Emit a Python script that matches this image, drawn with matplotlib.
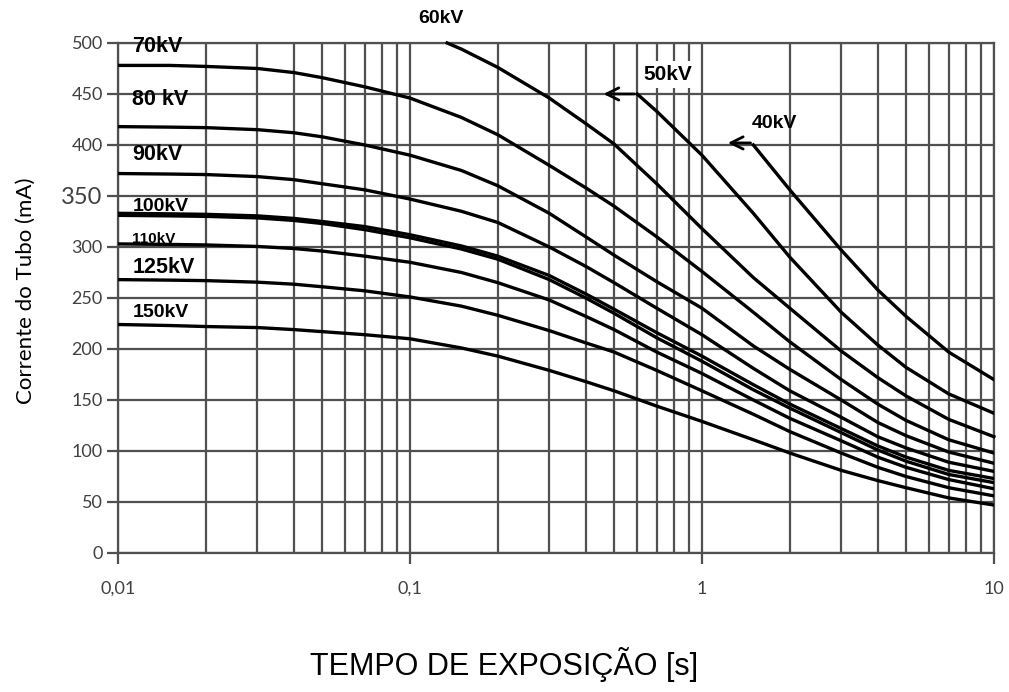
import matplotlib
matplotlib.use("Agg")
import matplotlib.pyplot as plt
from matplotlib.ticker import FixedLocator, NullFormatter

# exposure time (s) read at these points for the long curves
t_full = [0.01, 0.015, 0.02, 0.03, 0.04, 0.05, 0.07, 0.1, 0.15, 0.2, 0.3,
          0.4, 0.5, 0.7, 1, 1.5, 2, 3, 4, 5, 7, 10]

ma_150 = [224, 223, 222, 221, 219, 217, 214, 210, 201, 193, 179,
          168, 159, 144, 129, 111, 98, 81, 71, 64, 54, 47]
ma_125 = [268, 267.5, 267, 265.5, 263.5, 261, 257, 251, 242, 233, 218,
          206, 197, 179, 159, 136, 119, 98, 84, 75, 64, 56]
ma_110 = [303, 302.5, 302, 300.5, 298.5, 296, 291, 285, 275, 265, 248,
          232, 219, 197, 176, 150, 132, 110, 94, 84, 72, 63]
ma_100b = [331, 330.5, 330, 328.5, 326, 323, 317, 309, 298, 288, 268,
           250, 235, 211, 188, 160, 142, 118, 101, 90, 77, 69]
ma_100 = [333, 332.5, 332, 330.5, 328, 325, 320, 312, 301, 291, 272,
          254, 239, 216, 193, 165, 146, 122, 105, 94, 81, 73]
ma_90 = [372, 371.5, 371, 369, 366, 362, 356, 347, 335, 324, 300,
         281, 265, 240, 214, 181, 159, 133, 114, 103, 89, 80]
ma_80 = [418, 417.5, 417, 415, 412, 408, 400, 390, 375, 360, 333,
         310, 292, 266, 240, 203, 180, 150, 128, 115, 99, 88]
ma_70 = [478, 478, 477, 475, 471, 466, 457, 446, 427, 410, 380,
         358, 340, 310, 276, 236, 207, 170, 146, 130, 111, 98]

t_60 = [0.134, 0.15, 0.2, 0.3, 0.4, 0.5, 0.7, 1, 1.5, 2, 3, 4, 5, 7, 10]
ma_60 = [500, 494, 476, 446, 421, 401, 362, 318, 270, 240, 198, 172, 154, 131, 114]

t_50 = [0.6, 0.7, 1, 1.5, 2, 3, 4, 5, 7, 10]
ma_50 = [450, 433, 390, 333, 290, 236, 204, 182, 156, 137]

t_40 = [1.5, 2, 3, 4, 5, 7, 10]
ma_40 = [400, 356, 297, 258, 232, 197, 170]

y_ticks = [0, 50, 100, 150, 200, 250, 300, 350, 400, 450, 500]
x_ticks = [0.01, 0.1, 1, 10]
x_ticklabels = ["0,01", "0,1", "1", "10"]

# labels written on the left side of the chart: (text, time, mA, size)
left_labels = [("70kV", 0.0112, 497, 15.5), ("80 kV", 0.0112, 445, 15.5),
               ("90kV", 0.0112, 391, 15.5), ("100kV", 0.0112, 340, 14),
               ("110kV", 0.0112, 308, 11), ("125kV", 0.0112, 280, 15.5),
               ("150kV", 0.0112, 236, 14)]

fig = plt.figure(figsize=(10.09, 6.92), dpi=100)
ax = fig.add_axes([0.117, 0.2009, 0.868, 0.737])

ax.set_xscale("log")
ax.set_xlim(0.01, 10)
ax.set_ylim(0, 500)

grid_col = "#505050"
ax.xaxis.set_major_locator(FixedLocator(x_ticks))
ax.xaxis.set_minor_locator(FixedLocator([m * d for d in [0.01, 0.1, 1] for m in range(2, 10)]))
ax.xaxis.set_minor_formatter(NullFormatter())
ax.set_xticklabels(x_ticklabels)
ax.set_yticks(y_ticks)
ax.grid(True, which="major", color=grid_col, lw=1.6)
ax.grid(True, which="minor", axis="x", color=grid_col, lw=1.6)
ax.tick_params(axis="x", which="minor", length=0)
ax.tick_params(axis="both", which="major", length=8, width=1.6, color=grid_col,
               labelcolor="#404040", labelsize=13, pad=12)
ax.tick_params(axis="y", pad=3)
for s in ax.spines.values():
    s.set_color(grid_col)
    s.set_linewidth(1.6)
for lab in ax.get_xticklabels() + ax.get_yticklabels():
    lab.set_family("Lato")
for lab in ax.get_yticklabels():
    if lab.get_text() == "350":
        lab.set_fontsize(17)

lw = 2.4
for ma in [ma_150, ma_125, ma_110, ma_100b, ma_100, ma_90, ma_80, ma_70]:
    ax.plot(t_full, ma, color="black", lw=lw, zorder=3)
ax.plot(t_60, ma_60, color="black", lw=lw, zorder=3, clip_on=False)
ax.plot(t_50, ma_50, color="black", lw=lw, zorder=3)
ax.plot(t_40, ma_40, color="black", lw=lw, zorder=3)

for txt, x, y, size in left_labels:
    ax.text(x, y, txt, fontsize=size, fontweight="bold", family="Liberation Sans",
            va="center", ha="left", zorder=4)

ax.text(0.107, 524, "60kV", fontsize=14, fontweight="bold", family="Liberation Sans",
        va="center", ha="left", clip_on=False)
ax.text(0.63, 469, "50kV", fontsize=15, fontweight="bold", family="Liberation Sans",
        va="center", ha="left", zorder=4,
        bbox=dict(facecolor="white", edgecolor="none", pad=3))
ax.text(1.48, 421, "40kV", fontsize=14, fontweight="bold", family="Liberation Sans",
        va="center", ha="left", zorder=4)

arrow = dict(arrowstyle="->", color="black", lw=2, mutation_scale=22)
ax.annotate("", xy=(0.45, 450), xytext=(0.6, 450), arrowprops=arrow, zorder=4)
ax.annotate("", xy=(1.2, 402), xytext=(1.5, 402), arrowprops=arrow, zorder=4)

fig.text(0.026, 0.58, "Corrente do Tubo (mA)", rotation=90, fontsize=16,
         family="Lato", va="center", ha="center")
fig.text(0.5, 0.04, "TEMPO DE EXPOSIÇÃO [s]", fontsize=22,
         family=["Liberation Sans Narrow", "Liberation Sans"], va="center", ha="center")

plt.savefig("out.png", dpi=100, facecolor="white")
